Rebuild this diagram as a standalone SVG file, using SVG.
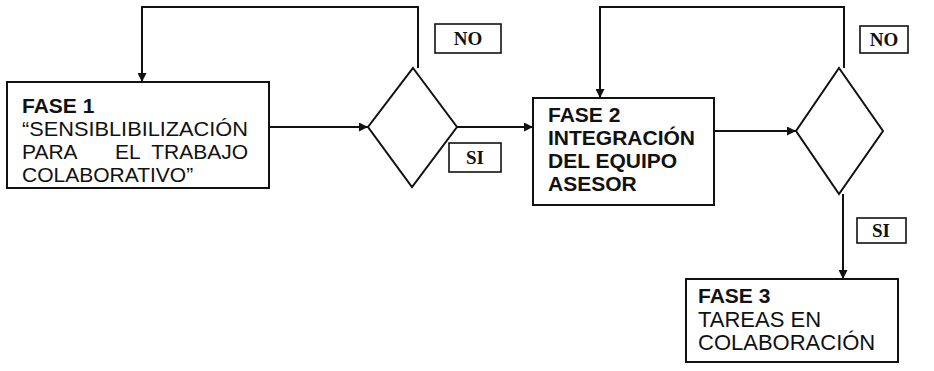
<svg xmlns="http://www.w3.org/2000/svg" width="934" height="371" viewBox="0 0 934 371">
<style>
.box{fill:#fff;stroke:#111;stroke-width:2}
.dia{fill:#fff;stroke:#111;stroke-width:2}
.lbl{fill:#fff;stroke:#111;stroke-width:1.6}
.ln{fill:none;stroke:#111;stroke-width:2}
.t{font-family:"Liberation Sans",Arial,sans-serif;font-size:21px;fill:#111}
.b{font-weight:bold}
.l{font-family:"Liberation Serif","Times New Roman",serif;font-size:19px;font-weight:bold;fill:#111;text-anchor:middle}
</style>
<defs>
<marker id="ah" viewBox="0 0 10 10" refX="10" refY="5" markerWidth="11" markerHeight="9" markerUnits="userSpaceOnUse" orient="auto">
<path d="M0,0 L10,5 L0,10 Z" fill="#111"/>
</marker>
</defs>
<rect width="934" height="371" fill="#fff"/>
<g id="connectors">
<polyline class="ln" points="418,68 418,7 142,7 142,82" marker-end="url(#ah)"/>
<line class="ln" x1="269" y1="127" x2="368" y2="127" marker-end="url(#ah)"/>
<line class="ln" x1="457" y1="127" x2="533" y2="127" marker-end="url(#ah)"/>
<polyline class="ln" points="844,68 844,7 600,7 600,98" marker-end="url(#ah)"/>
<line class="ln" x1="714" y1="131" x2="796" y2="131" marker-end="url(#ah)"/>
<line class="ln" x1="843" y1="194" x2="843" y2="279" marker-end="url(#ah)"/>
</g>
<g id="fase1">
<rect class="box" x="7" y="82" width="262" height="106"/>
<text class="t b" x="22" y="113">FASE 1</text>
<text class="t" x="22" y="136" textLength="226" lengthAdjust="spacingAndGlyphs">“SENSIBLIBILIZACIÓN</text>
<text class="t" y="159"><tspan x="22">PARA</tspan><tspan x="115">EL</tspan><tspan x="248" text-anchor="end">TRABAJO</tspan></text>
<text class="t" x="22" y="182">COLABORATIVO”</text>
</g>
<g id="decision1">
<polygon class="dia" points="413,68 457,127 412,187 368,127"/>
</g>
<g id="no1">
<rect class="lbl" x="435" y="24" width="66" height="29"/>
<text class="l" x="468" y="45">NO</text>
</g>
<g id="si1">
<rect class="lbl" x="449" y="143" width="52" height="29"/>
<text class="l" x="475" y="164">SI</text>
</g>
<g id="fase2">
<rect class="box" x="533" y="98" width="181" height="107"/>
<text class="t b" x="548" y="122">FASE 2</text>
<text class="t b" x="548" y="145">INTEGRACIÓN</text>
<text class="t b" x="548" y="168">DEL EQUIPO</text>
<text class="t b" x="548" y="191">ASESOR</text>
</g>
<g id="decision2">
<polygon class="dia" points="839,68 883,131 839,194 796,131"/>
</g>
<g id="no2">
<rect class="lbl" x="860" y="26" width="48" height="27"/>
<text class="l" x="884" y="46">NO</text>
</g>
<g id="si2">
<rect class="lbl" x="857" y="218" width="49" height="25"/>
<text class="l" x="881" y="237">SI</text>
</g>
<g id="fase3">
<rect class="box" x="686" y="279" width="212" height="83"/>
<text class="t b" x="698" y="303">FASE 3</text>
<text class="t" x="698" y="327" style="font-size:22px">TAREAS EN</text>
<text class="t" x="698" y="350" style="font-size:22px">COLABORACIÓN</text>
</g>
</svg>
